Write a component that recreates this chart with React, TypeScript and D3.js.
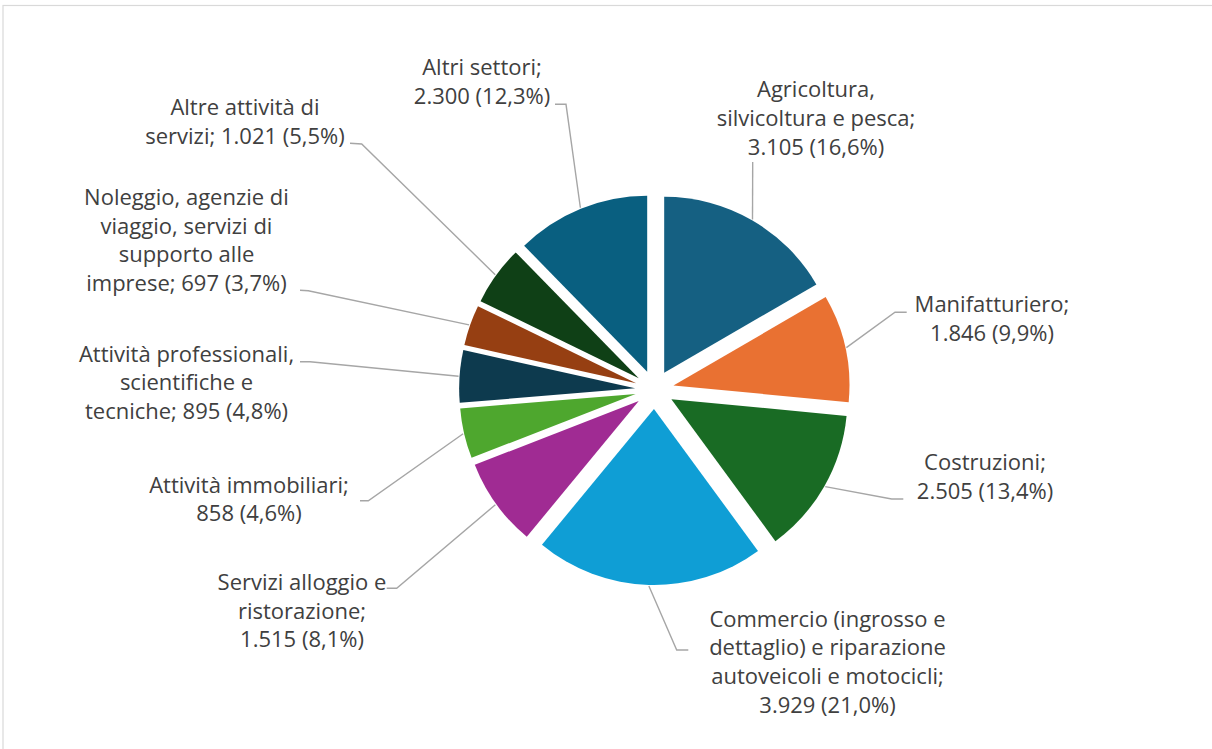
import React from "react";
import * as d3 from "d3";

// ---- Data ----
const categories = [
  "Agricoltura, silvicoltura e pesca",
  "Manifatturiero",
  "Costruzioni",
  "Commercio (ingrosso e dettaglio) e riparazione autoveicoli e motocicli",
  "Servizi alloggio e ristorazione",
  "Attività immobiliari",
  "Attività professionali, scientifiche e tecniche",
  "Noleggio, agenzie di viaggio, servizi di supporto alle imprese",
  "Altre attività di servizi",
  "Altri settori",
];
const values = [3105, 1846, 2505, 3929, 1515, 858, 895, 697, 1021, 2300];

// how each category name wraps in its label; valueInline: value goes on last line
const labelLines: string[][] = [
  ["Agricoltura,", "silvicoltura e pesca;"],
  ["Manifatturiero;"],
  ["Costruzioni;"],
  ["Commercio (ingrosso e", "dettaglio) e riparazione", "autoveicoli e motocicli;"],
  ["Servizi alloggio e", "ristorazione;"],
  ["Attività immobiliari;"],
  ["Attività professionali,", "scientifiche e", "tecniche;"],
  ["Noleggio, agenzie di", "viaggio, servizi di", "supporto alle", "imprese;"],
  ["Altre attività di", "servizi;"],
  ["Altri settori;"],
];
const valueInline = [false, false, false, false, false, false, true, true, true, false];

const colors = [
  "#156082", "#E97132", "#196B24", "#0F9ED5", "#A02B93",
  "#4EA72E", "#0D3A4E", "#963F12", "#0F4016", "#095F80",
];

// ---- Layout (label placement) ----
const W = 1212;
const H = 749;
const CX = 654.5;
const CY = 389.6;
const R = 176;
const EXPLODE = 19.4;
const FONT = 22;
const LINE_H = 28.7;

// label center x, first baseline y, leader attach point, stub end point
const labelPos = [
  { x: 816, y: 97.3, ax: 752.7, ay: 162, sx: 752.7, sy: 162 },
  { x: 992, y: 312.3, ax: 906.7, ay: 312.3, sx: 895, sy: 312.3 },
  { x: 985, y: 470, ax: 903.3, ay: 499, sx: 891.7, sy: 499 },
  { x: 827.5, y: 626.7, ax: 688.3, ay: 650, sx: 676.7, sy: 650 },
  { x: 302, y: 590, ax: 386.7, ay: 588.3, sx: 396.7, sy: 588.3 },
  { x: 249, y: 492.7, ax: 360, ay: 500.7, sx: 368.3, sy: 500.7 },
  { x: 186.5, y: 361.7, ax: 300, ay: 361.7, sx: 310, sy: 361.7 },
  { x: 186.5, y: 205, ax: 300, ay: 290.3, sx: 308.3, sy: 290.7 },
  { x: 245, y: 115, ax: 350, ay: 143.3, sx: 361.7, sy: 144 },
  { x: 482, y: 75, ax: 555, ay: 104.3, sx: 566, sy: 104.3 },
];

const itLocale = d3.formatLocale({
  decimal: ",",
  thousands: ".",
  grouping: [3],
  currency: ["€", ""],
});
const fmtInt = itLocale.format(",d");
const fmtPct = itLocale.format(".1%");

export default function App() {
  const total = d3.sum(values);
  const pie = d3
    .pie<number>()
    .sort(null)
    .value((d) => d);
  const arcs = pie(values);
  const arcGen = d3.arc<d3.PieArcDatum<number>>().innerRadius(0).outerRadius(R);

  return (
    <svg
      width={W}
      height={H}
      style={{ position: "absolute", left: 0, top: 0, background: "#fff" }}
      fontFamily="'Open Sans', sans-serif"
    >
      <rect x={3} y={5.5} width={W + 20} height={H + 20} fill="#fff" stroke="#D9D9D9" strokeWidth={1.2} />
      {arcs.map((a, i) => {
        const mid = (a.startAngle + a.endAngle) / 2;
        const ox = EXPLODE * Math.sin(mid);
        const oy = -EXPLODE * Math.cos(mid);
        return (
          <path
            key={"s" + i}
            d={arcGen(a) || ""}
            transform={`translate(${CX + ox},${CY + oy})`}
            fill={colors[i]}
          />
        );
      })}
      {arcs.map((a, i) => {
        const mid = (a.startAngle + a.endAngle) / 2;
        const dx = Math.sin(mid);
        const dy = -Math.cos(mid);
        const ex = CX + EXPLODE * dx + (R + 1) * dx;
        const ey = CY + EXPLODE * dy + (R + 1) * dy;
        const p = labelPos[i];
        const path = d3.path();
        path.moveTo(p.ax, p.ay);
        path.lineTo(p.sx, p.sy);
        path.lineTo(ex, ey);
        return (
          <path
            key={"l" + i}
            d={path.toString()}
            fill="none"
            stroke="#A6A6A6"
            strokeWidth={1.4}
          />
        );
      })}
      {arcs.map((a, i) => {
        const valTxt = `${fmtInt(values[i])} (${fmtPct(values[i] / total)})`;
        const lines = [...labelLines[i]];
        if (valueInline[i]) lines[lines.length - 1] = lines[lines.length - 1] + " " + valTxt;
        else lines.push(valTxt);
        const p = labelPos[i];
        return (
          <text
            key={"t" + i}
            x={p.x}
            y={p.y}
            textAnchor="middle"
            fontSize={FONT}
            fill="#404040"
          >
            <title>{categories[i]}</title>
            {lines.map((ln, j) => (
              <tspan key={j} x={p.x} y={p.y + j * LINE_H}>
                {ln}
              </tspan>
            ))}
          </text>
        );
      })}
    </svg>
  );
}
